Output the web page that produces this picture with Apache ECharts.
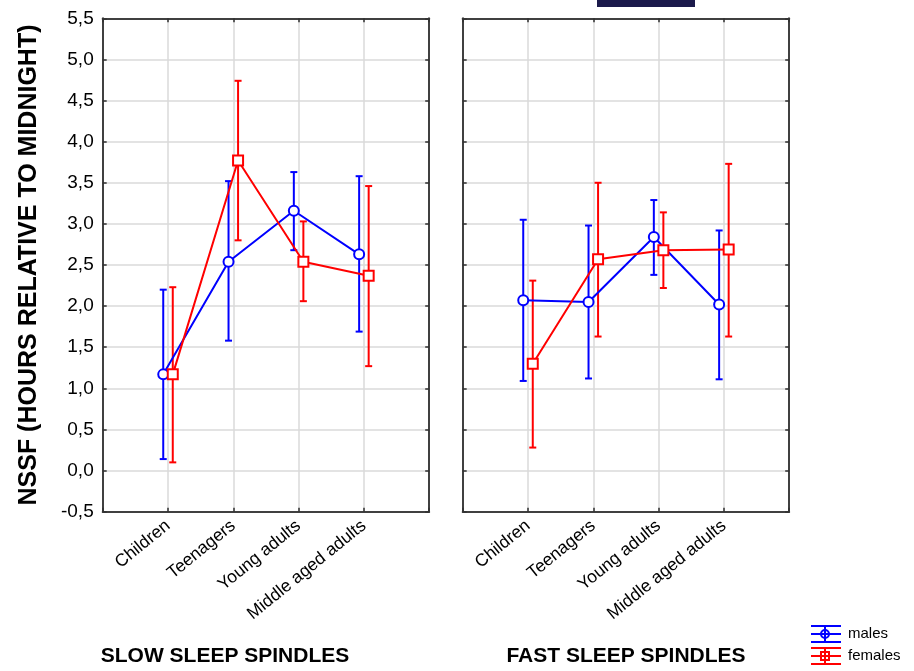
<!DOCTYPE html>
<html>
<head>
<meta charset="utf-8">
<script src="https://cdn.jsdelivr.net/npm/echarts@6/dist/echarts.min.js"></script>
<style>
html,body{margin:0;padding:0;background:#fff;}
#chart{width:914px;height:671px;}
</style>
</head>
<body>
<div id="chart"></div>
<script>
var categories = ['Children', 'Teenagers', 'Young adults', 'Middle aged adults'];
var yTicks = [-0.5, 0, 0.5, 1, 1.5, 2, 2.5, 3, 3.5, 4, 4.5, 5, 5.5];

var slowMalesMean = [1.17, 2.54, 3.16, 2.63];
var slowMalesLow = [0.14, 1.58, 2.68, 1.69];
var slowMalesHigh = [2.20, 3.52, 3.63, 3.58];
var slowFemalesMean = [1.17, 3.77, 2.54, 2.37];
var slowFemalesLow = [0.10, 2.80, 2.06, 1.27];
var slowFemalesHigh = [2.23, 4.74, 3.03, 3.46];

var fastMalesMean = [2.07, 2.05, 2.84, 2.02];
var fastMalesLow = [1.09, 1.12, 2.38, 1.11];
var fastMalesHigh = [3.05, 2.98, 3.29, 2.92];
var fastFemalesMean = [1.30, 2.57, 2.68, 2.69];
var fastFemalesLow = [0.28, 1.63, 2.22, 1.63];
var fastFemalesHigh = [2.31, 3.50, 3.14, 3.73];

var BLUE = '#0000ff', RED = '#ff0000';
var FONT = 'Liberation Sans, Arial, sans-serif';
var DODGE = 0.073;

function pts(mean, off) {
  return mean.map(function (v, i) { return [i + 1 + off, v]; });
}
function bars(low, high, off) {
  return low.map(function (v, i) { return [i + 1 + off, v, high[i]]; });
}
function errSeries(low, high, off, color, gi) {
  return {
    type: 'custom', xAxisIndex: gi * 2, yAxisIndex: gi * 2, z: 2,
    data: bars(low, high, off),
    encode: { x: 0, y: [1, 2] },
    renderItem: function (params, api) {
      var x = api.value(0);
      var a = api.coord([x, api.value(1)]);
      var b = api.coord([x, api.value(2)]);
      var w = 3.5;
      var st = { stroke: color, lineWidth: 2 };
      return {
        type: 'group', children: [
          { type: 'line', shape: { x1: a[0], y1: a[1], x2: b[0], y2: b[1] }, style: st },
          { type: 'line', shape: { x1: a[0] - w, y1: a[1], x2: a[0] + w, y2: a[1] }, style: st },
          { type: 'line', shape: { x1: b[0] - w, y1: b[1], x2: b[0] + w, y2: b[1] }, style: st }
        ]
      };
    }
  };
}
function lineSeries(name, mean, off, color, symbol, gi) {
  return {
    name: name, type: 'line', xAxisIndex: gi * 2, yAxisIndex: gi * 2, z: 3,
    data: pts(mean, off),
    symbol: symbol, symbolSize: symbol === 'emptyCircle' ? 10 : 10,
    showSymbol: true,
    lineStyle: { color: color, width: 2 },
    itemStyle: { color: color, borderColor: color, borderWidth: 2 },
    emphasis: { disabled: true },
    animation: false
  };
}

var gridLefts = [102.7, 462.7];
var grids = gridLefts.map(function (l) {
  return { left: l, top: 18.3, width: 326.5, height: 493.4, containLabel: false };
});

var axisLineStyle = { show: true, onZero: false, lineStyle: { color: '#404040', width: 2 } };
var tickStyle = { show: true, inside: true, length: 4, lineStyle: { color: '#303030', width: 1.5 } };
var splitStyle = { show: true, lineStyle: { color: '#dadada', width: 1.5 } };

var xAxes = [], yAxes = [];
[0, 1].forEach(function (gi) {
  xAxes.push({
    type: 'value', gridIndex: gi, min: 0, max: 5, interval: 1, position: 'bottom',
    axisLine: axisLineStyle, axisTick: tickStyle, splitLine: splitStyle,
    axisLabel: {
      show: true, rotate: 39, margin: 12, color: '#000', fontFamily: FONT, fontSize: 17.5,
      formatter: function (v) { return (v >= 1 && v <= categories.length) ? categories[v - 1] : ''; }
    }
  });
  xAxes.push({
    type: 'value', gridIndex: gi, min: 0, max: 5, interval: 1, position: 'top',
    axisLine: axisLineStyle, axisTick: tickStyle, splitLine: { show: false }, axisLabel: { show: false }
  });
  yAxes.push({
    type: 'value', gridIndex: gi, min: yTicks[0], max: yTicks[yTicks.length - 1], interval: 0.5, position: 'left',
    axisLine: axisLineStyle, axisTick: tickStyle, splitLine: splitStyle,
    name: gi === 0 ? 'NSSF (HOURS RELATIVE TO MIDNIGHT)' : '',
    nameLocation: 'middle', nameGap: 61, nameRotate: 90,
    nameTextStyle: { fontFamily: FONT, fontSize: 25, fontWeight: 'bold', color: '#000' },
    axisLabel: {
      show: gi === 0, margin: 9, color: '#000', fontFamily: FONT, fontSize: 19,
      formatter: function (v) { return v.toFixed(1).replace('.', ','); }
    }
  });
  yAxes.push({
    type: 'value', gridIndex: gi, min: yTicks[0], max: yTicks[yTicks.length - 1], interval: 0.5, position: 'right',
    axisLine: axisLineStyle, axisTick: tickStyle, splitLine: { show: false }, axisLabel: { show: false }
  });
});

var series = [
  errSeries(slowMalesLow, slowMalesHigh, -DODGE, BLUE, 0),
  errSeries(slowFemalesLow, slowFemalesHigh, DODGE, RED, 0),
  lineSeries('males', slowMalesMean, -DODGE, BLUE, 'emptyCircle', 0),
  lineSeries('females', slowFemalesMean, DODGE, RED, 'emptyRect', 0),
  errSeries(fastMalesLow, fastMalesHigh, -DODGE, BLUE, 1),
  errSeries(fastFemalesLow, fastFemalesHigh, DODGE, RED, 1),
  lineSeries('males', fastMalesMean, -DODGE, BLUE, 'emptyCircle', 1),
  lineSeries('females', fastFemalesMean, DODGE, RED, 'emptyRect', 1)
];

function legendIcon(cy, color, marker) {
  var st = { stroke: color, lineWidth: 2, fill: null };
  var x1 = 811, x2 = 841, cx = 825;
  var kids = [
    { type: 'line', shape: { x1: x1, y1: cy - 8, x2: x2, y2: cy - 8 }, style: st },
    { type: 'line', shape: { x1: x1, y1: cy, x2: x2, y2: cy }, style: st },
    { type: 'line', shape: { x1: x1, y1: cy + 8, x2: x2, y2: cy + 8 }, style: st },
    { type: 'line', shape: { x1: cx, y1: cy - 8, x2: cx, y2: cy + 8 }, style: st }
  ];
  if (marker === 'circle') {
    kids.push({ type: 'circle', shape: { cx: cx, cy: cy, r: 4 }, style: { stroke: color, lineWidth: 2, fill: 'transparent' } });
  } else {
    kids.push({ type: 'rect', shape: { x: cx - 4, y: cy - 4, width: 8, height: 8 }, style: { stroke: color, lineWidth: 2, fill: 'transparent' } });
  }
  return { type: 'group', children: kids };
}

var chart = echarts.init(document.getElementById('chart'), null, { renderer: 'canvas' });
chart.setOption({
  animation: false,
  backgroundColor: '#fff',
  grid: grids,
  xAxis: xAxes,
  yAxis: yAxes,
  series: series,
  graphic: [
    { type: 'rect', shape: { x: 597, y: 0, width: 98, height: 7 }, style: { fill: '#1b1a4b' } },
    { type: 'text', x: 225, y: 656, style: { text: 'SLOW SLEEP SPINDLES', font: 'bold 21px ' + FONT, fill: '#000', align: 'center', verticalAlign: 'middle' } },
    { type: 'text', x: 626, y: 656, style: { text: 'FAST SLEEP SPINDLES', font: 'bold 21px ' + FONT, fill: '#000', align: 'center', verticalAlign: 'middle' } },
    legendIcon(634, BLUE, 'circle'),
    legendIcon(656, RED, 'rect'),
    { type: 'text', x: 848, y: 634, style: { text: 'males', font: '15px ' + FONT, fill: '#000', align: 'left', verticalAlign: 'middle' } },
    { type: 'text', x: 848, y: 656, style: { text: 'females', font: '15px ' + FONT, fill: '#000', align: 'left', verticalAlign: 'middle' } }
  ]
});
</script>
</body>
</html>
